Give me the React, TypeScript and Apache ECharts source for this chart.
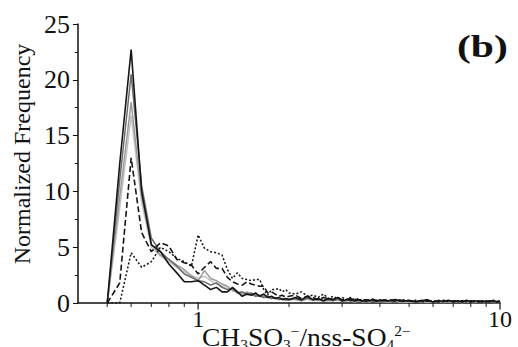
import React, { useEffect, useRef } from "react";
import * as echarts from "echarts";

const bins = [
  0.5, 0.55, 0.6, 0.65, 0.7, 0.75, 0.8, 0.85, 0.9, 0.95,
  1.0, 1.05, 1.1, 1.15, 1.2, 1.25, 1.3, 1.35, 1.4, 1.45,
  1.5, 1.55, 1.6, 1.65, 1.7, 1.75, 1.8, 1.85, 1.9, 1.95, 2.0,
  2.1, 2.2, 2.3, 2.4, 2.5, 2.6, 2.7, 2.8, 2.9, 3.0,
  3.1, 3.2, 3.3, 3.4, 3.5, 3.6, 3.7, 3.8, 3.9, 4.0,
  4.25, 4.5, 4.75, 5.0, 5.25, 5.5, 5.75, 6.0, 6.25, 6.5, 6.75, 7.0,
  7.25, 7.5, 7.75, 8.0, 8.25, 8.5, 8.75, 9.0, 9.25, 9.5, 9.75, 10.0,
];

const blackSolid = [
  0, 12.5, 22.7, 10, 5.2, 4.6, 3.5, 2.7, 1.9, 1.9,
  2.0, 1.6, 1.2, 1.4, 1.0, 1.0, 1.4, 1.0, 0.6, 0.8,
  0.7, 0.9, 0.6, 0.8, 0.5, 0.6, 0.4, 0.5, 0.3, 0.4, 0.3,
  0.5, 0.3, 0.6, 0.3, 0.4, 0.2, 0.4, 0.3, 0.5, 0.2,
  0.3, 0.4, 0.2, 0.3, 0.15, 0.3, 0.2, 0.35, 0.15, 0.25,
  0.2, 0.3, 0.15, 0.25, 0.1, 0.2, 0.3, 0.1, 0.2, 0.15, 0.25, 0.1,
  0.2, 0.1, 0.25, 0.1, 0.15, 0.2, 0.1, 0.2, 0.1, 0.25, 0.1, 0.2,
];

const darkGray = [
  0, 11, 20.5, 10.5, 5.8, 4.6, 3.9, 3.3, 2.6, 2.3,
  2.0, 1.9, 1.6, 1.8, 1.4, 1.2, 1.3, 0.9, 1.0, 0.8,
  0.9, 0.6, 0.7, 0.5, 0.6, 0.4, 0.5, 0.3, 0.4, 0.3, 0.35,
  0.4, 0.25, 0.45, 0.3, 0.35, 0.2, 0.3, 0.25, 0.35, 0.2,
  0.25, 0.3, 0.15, 0.25, 0.2, 0.25, 0.15, 0.3, 0.1, 0.2,
  0.15, 0.25, 0.1, 0.2, 0.15, 0.1, 0.2, 0.1, 0.15, 0.1, 0.2, 0.1,
  0.15, 0.1, 0.2, 0.05, 0.15, 0.1, 0.15, 0.1, 0.05, 0.15, 0.1, 0.1,
];

const midGray = [
  0, 9.5, 18, 9.5, 5.3, 4.3, 3.9, 3.4, 3.0, 2.4,
  2.0, 2.9, 2.2, 2.0, 1.7, 1.5, 1.1, 1.0, 0.8, 1.0,
  0.7, 0.8, 0.6, 0.5, 0.6, 0.4, 0.45, 0.3, 0.4, 0.25, 0.3,
  0.35, 0.2, 0.4, 0.25, 0.3, 0.2, 0.25, 0.2, 0.3, 0.15,
  0.2, 0.25, 0.1, 0.2, 0.15, 0.2, 0.1, 0.25, 0.1, 0.15,
  0.1, 0.2, 0.1, 0.15, 0.1, 0.15, 0.1, 0.05, 0.15, 0.1, 0.1, 0.05,
  0.1, 0.05, 0.15, 0.05, 0.1, 0.05, 0.1, 0.05, 0.1, 0.05, 0.1, 0.05,
];

const lightGray = [
  0, 8.5, 16.8, 9.0, 5.0, 4.2, 3.7, 3.2, 2.8, 2.5,
  2.2, 2.4, 2.0, 1.7, 1.5, 1.3, 1.2, 0.9, 0.9, 0.7,
  0.8, 0.6, 0.6, 0.5, 0.5, 0.4, 0.4, 0.3, 0.35, 0.25, 0.3,
  0.3, 0.2, 0.35, 0.2, 0.25, 0.15, 0.25, 0.2, 0.25, 0.15,
  0.2, 0.2, 0.1, 0.2, 0.1, 0.15, 0.1, 0.2, 0.1, 0.15,
  0.1, 0.15, 0.05, 0.1, 0.1, 0.1, 0.05, 0.1, 0.1, 0.05, 0.1, 0.05,
  0.1, 0.05, 0.1, 0.05, 0.05, 0.1, 0.05, 0.05, 0.1, 0.05, 0.05, 0.05,
];

const dashedBlack = [
  0, 1.8, 13, 6.3, 4.6, 5.4, 5.1, 3.9, 3.6, 3.4,
  2.6, 3.2, 3.7, 3.1, 3.1, 2.3, 1.9, 1.7, 1.6, 1.9,
  1.7, 1.6, 1.5, 1.5, 0.9, 1.0, 0.8, 0.6, 0.7, 0.5, 0.6,
  0.7, 0.4, 0.6, 0.5, 0.3, 0.5, 0.4, 0.3, 0.45, 0.3,
  0.4, 0.2, 0.35, 0.25, 0.3, 0.15, 0.3, 0.2, 0.25, 0.2,
  0.3, 0.15, 0.25, 0.2, 0.1, 0.25, 0.15, 0.2, 0.1, 0.25, 0.1, 0.2,
  0.15, 0.2, 0.1, 0.2, 0.15, 0.1, 0.2, 0.1, 0.2, 0.15, 0.1, 0.15,
];

const dottedBlack = [
  0, 0, 4.5, 3.2, 3.7, 5.0, 4.6, 4.0, 3.7, 3.3,
  6.1, 4.9, 4.6, 4.5, 4.3, 3.0, 2.2, 2.7, 2.2, 2.1,
  2.0, 2.1, 2.1, 1.2, 0.7, 1.2, 1.2, 1.3, 1.0, 1.2, 0.9,
  0.8, 1.0, 0.6, 0.7, 0.5, 0.8, 0.4, 0.6, 0.4, 0.5,
  0.3, 0.5, 0.3, 0.4, 0.2, 0.35, 0.25, 0.3, 0.2, 0.3,
  0.2, 0.25, 0.3, 0.15, 0.25, 0.1, 0.2, 0.15, 0.25, 0.1, 0.2, 0.15,
  0.1, 0.2, 0.1, 0.15, 0.2, 0.1, 0.15, 0.1, 0.2, 0.1, 0.15, 0.1,
];

const minorTickPositions = [0.5, 0.6, 0.7, 0.8, 0.9, 2, 3, 4, 5, 6, 7, 8, 9];
const majorTickPositions = [1, 10];
const xTickLabels = ["1", "10"];

const FONT = "Liberation Serif, Times New Roman, serif";

function pairs(ys: number[]) {
  return bins.map((x, i) => [x, ys[i]]);
}

export default function App() {
  const ref = useRef<HTMLDivElement>(null);
  useEffect(() => {
    if (!ref.current) return;
    const chart = echarts.init(ref.current, undefined, { renderer: "svg" });
    const lineSeries = (name: string, data: number[], color: string, type: any, width: number, z: number) => ({
      name,
      type: "line",
      data: pairs(data),
      showSymbol: false,
      symbol: "none",
      z,
      lineStyle: { color, width, type },
    });
    chart.setOption({
      animation: false,
      backgroundColor: "#ffffff",
      textStyle: { fontFamily: FONT },
      grid: { left: 78, right: 18, top: 24, bottom: 44 },
      xAxis: {
        type: "log",
        logBase: 10,
        min: 0.4,
        max: 10,
        axisLine: { show: true, lineStyle: { color: "#111", width: 1.5 } },
        axisTick: { show: false },
        splitLine: { show: false },
        axisLabel: {
          color: "#111",
          fontFamily: FONT,
          fontSize: 24,
          margin: 4,
          showMinLabel: false,
          formatter: (v: number) => {
            const s = String(Math.round(v * 1000) / 1000);
            return xTickLabels.indexOf(s) >= 0 ? s : "";
          },
        },
      },
      yAxis: {
        type: "value",
        min: 0,
        max: 25,
        interval: 5,
        axisLine: { show: true, lineStyle: { color: "#111", width: 1.5 } },
        axisTick: { show: true, length: 5, lineStyle: { color: "#111" } },
        minorTick: { show: true, splitNumber: 2, length: 3, lineStyle: { color: "#111" } },
        splitLine: { show: false },
        axisLabel: { color: "#111", fontFamily: FONT, fontSize: 26, margin: 8 },
      },
      graphic: [
        {
          type: "text",
          x: 22,
          y: 154,
          rotation: Math.PI / 2,
          style: {
            text: "Normalized Frequency",
            fontFamily: FONT,
            fontSize: 24,
            fill: "#111",
            align: "center",
            verticalAlign: "middle",
          },
        },
        {
          type: "text",
          x: 457,
          y: 30,
          scaleX: 1.3,
          style: { text: "(b)", fontFamily: FONT, fontSize: 32, fontWeight: "bold", fill: "#111" },
        },
        {
          type: "text",
          x: 202,
          y: 324,
          scaleX: 1.1,
          style: {
            text: "{n|CH}{sub|3}{n|SO}{sub|3}{sup|−}{n|/nss-SO}{sub|4}{sup|2−}",
            fill: "#111",
            align: "left",
            verticalAlign: "top",
            rich: {
              n: { fontFamily: FONT, fontSize: 25, lineHeight: 28, fill: "#111" },
              sub: { fontFamily: FONT, fontSize: 14, lineHeight: 12, verticalAlign: "bottom", fill: "#111" },
              sup: { fontFamily: FONT, fontSize: 14, lineHeight: 12, verticalAlign: "top", fill: "#111" },
            },
          },
        },
      ],
      series: [
        lineSeries("s4", lightGray, "#c4c4c4", "solid", 1.5, 2),
        lineSeries("s3", midGray, "#9a9a9a", "solid", 1.5, 3),
        lineSeries("s2", darkGray, "#6a6a6a", "solid", 1.5, 4),
        lineSeries("s1", blackSolid, "#151515", "solid", 1.6, 5),
        lineSeries("s5", dashedBlack, "#151515", [6, 3], 1.6, 6),
        lineSeries("s6", dottedBlack, "#151515", [2, 2], 1.5, 7),
        {
          type: "scatter",
          data: minorTickPositions.map((x) => [x, 0]),
          symbol: "rect",
          symbolSize: [1.2, 4],
          symbolOffset: [0, 2],
          clip: false,
          silent: true,
          itemStyle: { color: "#111" },
          z: 10,
        },
        {
          type: "scatter",
          data: majorTickPositions.map((x) => [x, 0]),
          symbol: "rect",
          symbolSize: [1.5, 7],
          symbolOffset: [0, 3],
          clip: false,
          silent: true,
          itemStyle: { color: "#111" },
          z: 10,
        },
      ],
    });
    return () => chart.dispose();
  }, []);
  return (
    <div
      ref={ref}
      style={{ position: "fixed", left: 0, top: 0, width: 518, height: 347, background: "#fff" }}
    />
  );
}
